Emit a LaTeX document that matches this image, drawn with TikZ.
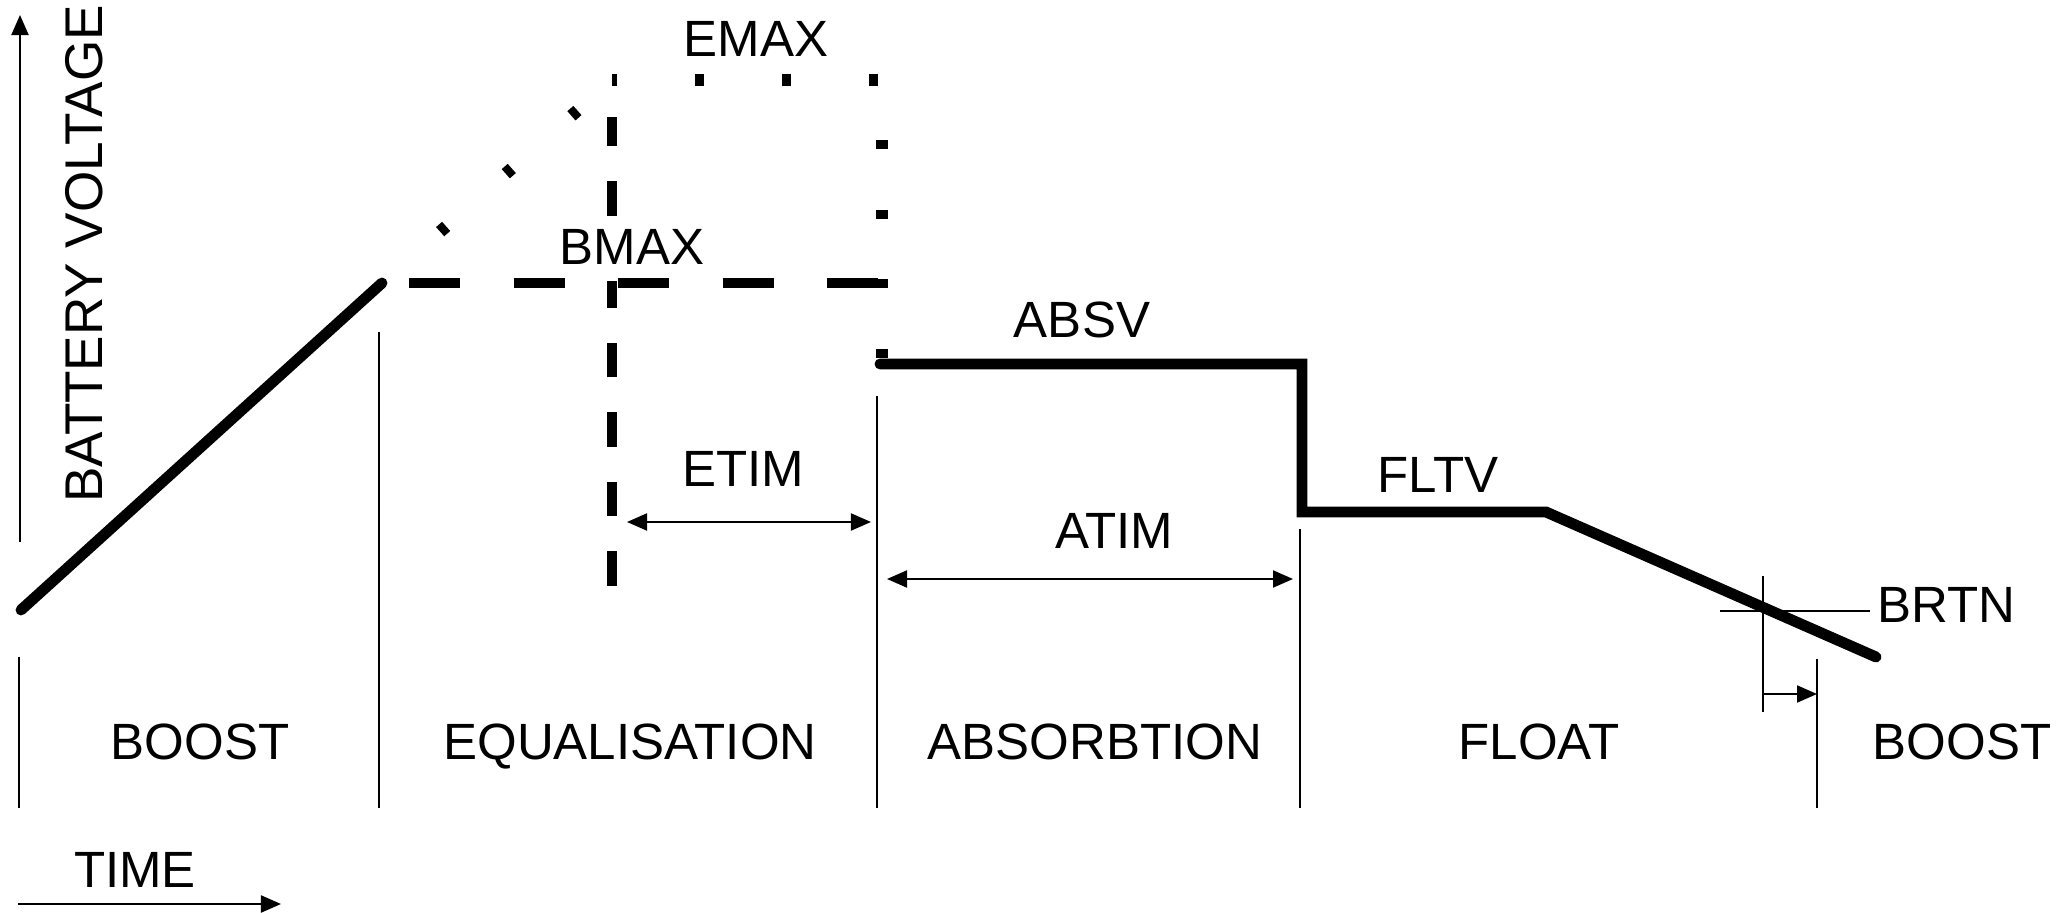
\documentclass[tikz,border=0pt]{standalone}
\usepackage{fontspec}
\setmainfont{Liberation Sans}
\usetikzlibrary{arrows.meta}

\begin{document}
\begin{tikzpicture}[x=0.01cm, y=-0.01cm, >={Triangle[length=2mm,width=1.7mm]}, every node/.style={font=\fontsize{14.5}{17}\selectfont, inner sep=0pt}, lbl/.style={anchor=base}, curve/.style={line width=3.1pt, line cap=round, line join=miter}, bmaxline/.style={line width=2.7pt, dash pattern=on 0.51cm off 0.535cm}, etimline/.style={line width=2.6pt, dash pattern=on 0.345cm off 0.35cm}, emaxline/.style={line width=3.5pt}, tick/.style={line width=0.6pt}]
\useasboundingbox (0,0) rectangle (2072,913);

% points of the charge curve
\coordinate (bstart) at (21,610);
\coordinate (btop) at (382,283);
\coordinate (ecorner) at (612,80);
\coordinate (eright) at (882,80);
\coordinate (ebottom) at (882,358);
\coordinate (astart) at (880,364);
\coordinate (aend) at (1302,364);
\coordinate (fstart) at (1302,512);
\coordinate (fend) at (1546,512);
\coordinate (cend) at (1876,657);

% axes
\draw[tick,->] (20,542) -- (20,15);
\node[lbl, rotate=90, font=\fontsize{15.1}{18}\selectfont] (yaxis) at (102,254) {BATTERY VOLTAGE};
\draw[tick,->] (18,904) -- (281,904);
\node[lbl] (time) at (135,888) {TIME};

% phase borders
\foreach \x/\t in {19/657, 379/332, 877/396, 1300/529, 1817/659}
  \draw[tick] (\x,\t) -- (\x,808);

% boost ramp and equalisation limits
\draw[curve] (bstart) -- (btop);
\draw[bmaxline, dash phase=0.775cm] (btop) -- (btop -| eright);
\draw[emaxline, dash pattern=on 0.08cm off 0.795cm, dash phase=0.1cm] (btop) -- (ecorner);
\draw[emaxline, dash pattern=on 0.085cm off 0.785cm, dash phase=0.04cm] (ecorner) -- (eright);
\draw[emaxline, dash pattern=on 0.09cm off 0.605cm, dash phase=0.095cm] (eright) -- (ebottom);
\draw[etimline] (612,586) -- (612,281);
\draw[etimline] (612,216) -- (612,117);

% absorbtion and float
\draw[curve] (astart) -- (aend) -- (fstart) -- (fend) -- (cend);

% timers
\draw[tick,<->] (627,522) -- (871,522);
\draw[tick,<->] (887,579) -- (1293,579);
\draw[tick] (1720,611) -- (1870,611);
\draw[tick] (1763,576) -- (1763,712);
\draw[tick,->] (1763,694) -- (1817,694);

% levels and timers
\node[lbl] (emax) at (756,57) {EMAX};
\node[lbl] (bmax) at (632,265) {BMAX};
\node[lbl] (absv) at (1082,338) {ABSV};
\node[lbl] (fltv) at (1438,493) {FLTV};
\node[lbl] (etim) at (743,487) {ETIM};
\node[lbl] (atim) at (1114,549) {ATIM};
\node[lbl, anchor=base west] (brtn) at (1877,623) {BRTN};

% phases
\node[lbl] (boost) at (200,760) {BOOST};
\node[lbl] (equal) at (630,760) {EQUALISATION};
\node[lbl] (absorb) at (1095,760) {ABSORBTION};
\node[lbl] (float) at (1539,760) {FLOAT};
\node[lbl] (boostb) at (1962,760) {BOOST};
\end{tikzpicture}
\end{document}
